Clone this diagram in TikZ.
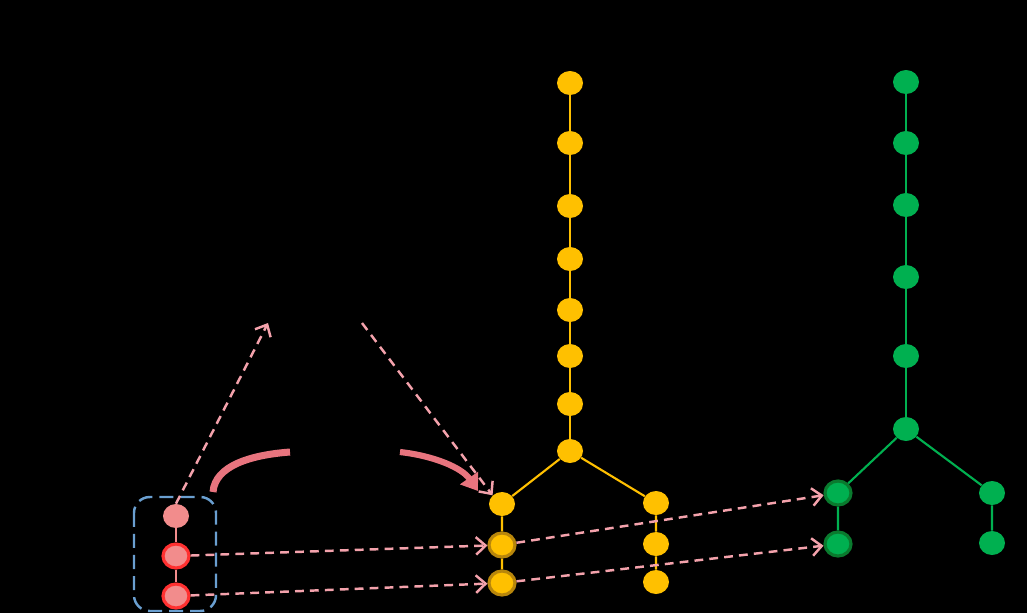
\documentclass[tikz,border=0pt]{standalone}
\usepackage[dvipsnames]{xcolor}
\usepackage{tikz}
\usetikzlibrary{shapes.geometric,arrows.meta}

\definecolor{treeYellow}{HTML}{FFC000}
\definecolor{ringYellow}{HTML}{B8860B}
\definecolor{treeGreen}{HTML}{00B050}
\definecolor{ringGreen}{HTML}{0A7A2E}
\definecolor{subPink}{HTML}{F28C8C}
\definecolor{subRed}{HTML}{FF3030}
\definecolor{mapPink}{HTML}{F4A2AC}
\definecolor{bendPink}{HTML}{E8747E}
\definecolor{boxBlue}{HTML}{6A9FD0}

\begin{document}
\begin{tikzpicture}[x=0.02cm,y=-0.02cm,
  dot/.style={ellipse,minimum width=0.52cm,minimum height=0.48cm,inner sep=0pt},
  ydot/.style={dot,fill=treeYellow},
  gdot/.style={dot,fill=treeGreen},
  yring/.style={ydot,draw=ringYellow,line width=1.8pt},
  gring/.style={gdot,draw=ringGreen,line width=1.8pt},
  rring/.style={dot,fill=subPink,draw=subRed,line width=1.8pt},
  match/.style={mapPink,line width=1.4pt,dash pattern=on 5pt off 3.5pt,-{Straight Barb[length=5.5pt,width=10pt]}}]

% Black background fixes the page
\fill[black] (0,0) rectangle (1027,613);

% Pattern graph inside the dashed box
\node[dot,fill=subPink] (p1) at (176,516) {};
\node[rring] (p2) at (176,556) {};
\node[rring] (p3) at (176,596) {};
\draw[subPink,line width=1.2pt] (p1) -- (p2) -- (p3);
\draw[boxBlue,line width=1.4pt,dash pattern=on 8pt off 4pt,rounded corners=9pt] (134,497) rectangle (216,611);

% Yellow tree
\node[ydot] (y1) at (570,83) {};
\node[ydot] (y2) at (570,143) {};
\node[ydot] (y3) at (570,206) {};
\node[ydot] (y4) at (570,259) {};
\node[ydot] (y5) at (570,310) {};
\node[ydot] (y6) at (570,356) {};
\node[ydot] (y7) at (570,404) {};
\node[ydot] (y8) at (570,451) {};
\node[ydot] (yl1) at (502,504) {};
\node[yring] (yl2) at (502,545) {};
\node[yring] (yl3) at (502,583) {};
\node[ydot] (yr1) at (656,503) {};
\node[ydot] (yr2) at (656,544) {};
\node[ydot] (yr3) at (656,582) {};
\draw[treeYellow,line width=1.2pt] (y1) -- (y2) -- (y3) -- (y4) -- (y5) -- (y6) -- (y7) -- (y8);
\draw[treeYellow,line width=1.2pt] (y8) -- (yl1) -- (yl2) -- (yl3);
\draw[treeYellow,line width=1.2pt] (y8) -- (yr1) -- (yr2) -- (yr3);

% Green tree
\node[gdot] (g1) at (906,82) {};
\node[gdot] (g2) at (906,143) {};
\node[gdot] (g3) at (906,205) {};
\node[gdot] (g4) at (906,277) {};
\node[gdot] (g5) at (906,356) {};
\node[gdot] (g6) at (906,429) {};
\node[gring] (gl1) at (838,493) {};
\node[gring] (gl2) at (838,544) {};
\node[gdot] (gr1) at (992,493) {};
\node[gdot] (gr2) at (992,543) {};
\draw[treeGreen,line width=1.2pt] (g1) -- (g2) -- (g3) -- (g4) -- (g5) -- (g6);
\draw[treeGreen,line width=1.2pt] (g6) -- (gl1) -- (gl2);
\draw[treeGreen,line width=1.2pt] (g6) -- (gr1) -- (gr2);

% Dashed matches between the graphs
\coordinate (upL) at (268,323);
\coordinate (upR) at (362,323);
\draw[match] (p1.north) -- (upL);
\draw[match] (upR) -- (yl1.north west);
\draw[match] (p2) -- (yl2);
\draw[match] (p3) -- (yl3);
\draw[match] (yl2) -- (gl1);
\draw[match] (yl3) -- (gl2);

% Thick bent arrow
\coordinate (bendA) at (213,492);
\coordinate (bendB) at (290,452);
\coordinate (bendC) at (400,452);
\coordinate (bendD) at (478,491);
\draw[bendPink,line width=4pt] (bendA) .. controls (215,466) and (250,455) .. (bendB);
\draw[bendPink,line width=3.5pt,-{Triangle[length=9pt,width=12pt]}] (bendC) .. controls (435,456) and (462,468) .. (bendD);

\end{tikzpicture}
\end{document}
